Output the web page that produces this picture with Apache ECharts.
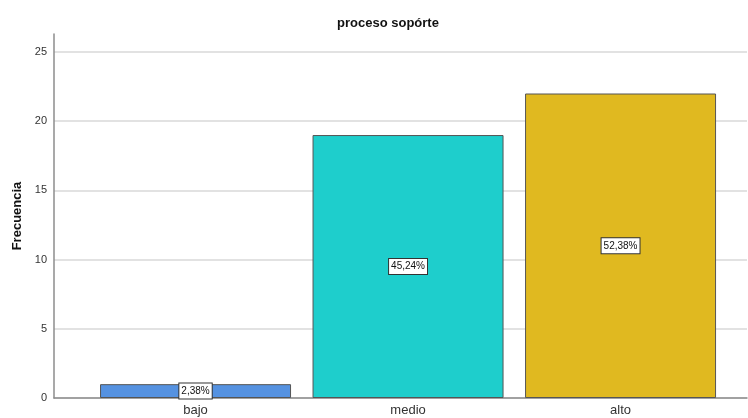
<!DOCTYPE html>
<html>
<head>
<meta charset="utf-8">
<script src="https://cdn.jsdelivr.net/npm/echarts@6/dist/echarts.min.js"></script>
<style>
  html, body { margin: 0; padding: 0; background: #fff; }
  #chart { width: 748px; height: 418px; }
</style>
</head>
<body>
<div id="chart"></div>
<script>
// Frequency of each support-process level
const categories = ['bajo', 'medio', 'alto'];
const frequencies = [1, 19, 22];
const percentLabels = ['2,38%', '45,24%', '52,38%'];
const barColors = ['#5592E1', '#1ECECC', '#E0B920'];
const yTicks = [0, 5, 10, 15, 20, 25];

const chart = echarts.init(document.getElementById('chart'), null, { renderer: 'canvas' });

const barData = categories.map((c, i) => ({
  value: [i, frequencies[i]],
  itemStyle: { color: barColors[i] },
  label: { formatter: percentLabels[i] }
}));

chart.setOption({
  animation: false,
  backgroundColor: '#ffffff',
  title: {
    text: 'proceso sopórte',
    left: 383,
    top: 12,
    textAlign: 'center',
    textStyle: { fontFamily: 'Liberation Sans, Arial', fontSize: 13, fontWeight: 'bold', color: '#111' }
  },
  grid: { left: 54, right: 1, top: 34, bottom: 20, containLabel: false },
  xAxis: {
    type: 'value',
    min: -0.666,
    max: 2.595,
    axisLine: { show: true, lineStyle: { color: '#8c8c8c', width: 1.5 } },
    axisTick: { show: false },
    splitLine: { show: false },
    axisLabel: {
      customValues: categories.map((c, i) => i),
      formatter: v => categories[Math.round(v)] || '',
      fontFamily: 'Liberation Sans, Arial',
      fontSize: 13,
      color: '#333',
      margin: 6
    }
  },
  yAxis: {
    type: 'value',
    min: 0,
    max: 26.3,
    interval: 5,
    name: 'Frecuencia',
    nameLocation: 'middle',
    nameGap: 30,
    nameTextStyle: { fontFamily: 'Liberation Sans, Arial', fontSize: 13, fontWeight: 'bold', color: '#111' },
    axisLine: { show: true, onZero: false, lineStyle: { color: '#8c8c8c', width: 1.5 } },
    axisTick: { show: false },
    axisLabel: {
      customValues: yTicks,
      fontFamily: 'Liberation Sans, Arial',
      fontSize: 11,
      color: '#333',
      margin: 7
    },
    splitLine: { show: true, showMaxLine: false, lineStyle: { color: '#d9d9d9', width: 1.5 } }
  },
  series: [{
    type: 'bar',
    barWidth: 191,
    data: barData,
    itemStyle: { borderColor: '#555', borderWidth: 1 },
    label: {
      show: true,
      position: 'inside',
      fontFamily: 'Liberation Sans, Arial',
      fontSize: 10,
      color: '#111',
      backgroundColor: '#fff',
      borderColor: '#333',
      borderWidth: 1,
      padding: [3, 2, 2, 2]
    }
  }]
});
</script>
</body>
</html>
